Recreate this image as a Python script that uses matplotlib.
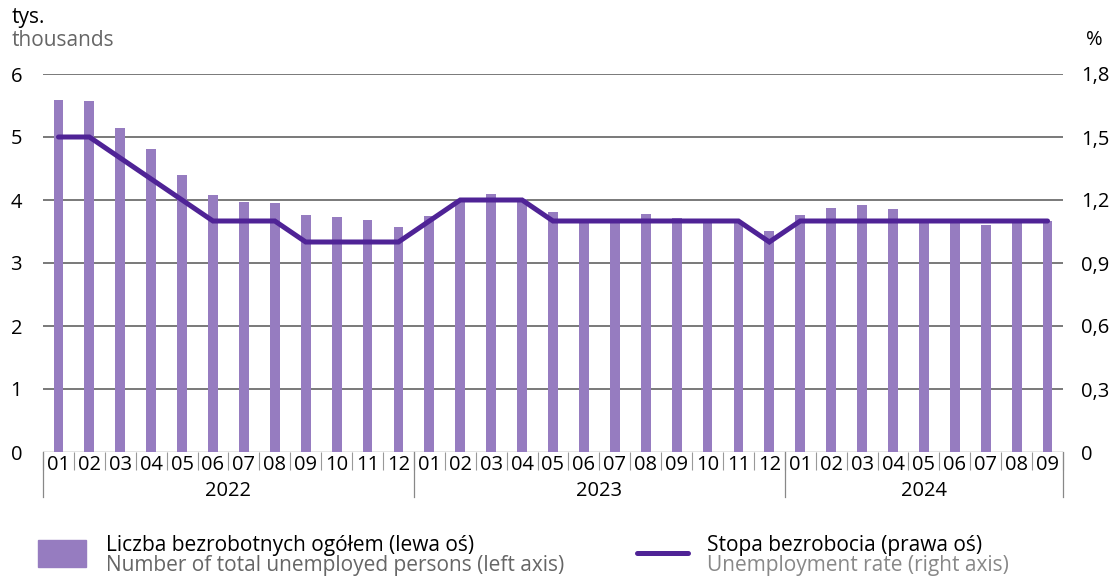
import numpy as np
import matplotlib.pyplot as plt
import matplotlib.transforms as mtransforms

# ---- data ----
months = ["01", "02", "03", "04", "05", "06", "07", "08", "09", "10", "11", "12",
          "01", "02", "03", "04", "05", "06", "07", "08", "09", "10", "11", "12",
          "01", "02", "03", "04", "05", "06", "07", "08", "09"]
years = ["2022", "2023", "2024"]
year_sizes = [12, 12, 9]

unemployed = [5.59, 5.57, 5.14, 4.81, 4.40, 4.08, 3.97, 3.95, 3.76, 3.73, 3.68, 3.57,
              3.75, 3.99, 4.10, 4.01, 3.81, 3.66, 3.67, 3.78, 3.71, 3.66, 3.63, 3.51,
              3.76, 3.87, 3.92, 3.86, 3.69, 3.67, 3.60, 3.67, 3.67]
rate = [1.5, 1.5, 1.4, 1.3, 1.2, 1.1, 1.1, 1.1, 1.0, 1.0, 1.0, 1.0,
        1.1, 1.2, 1.2, 1.2, 1.1, 1.1, 1.1, 1.1, 1.1, 1.1, 1.1, 1.0,
        1.1, 1.1, 1.1, 1.1, 1.1, 1.1, 1.1, 1.1, 1.1]

left_ticks = [0, 1, 2, 3, 4, 5, 6]
right_ticks = [0, 0.3, 0.6, 0.9, 1.2, 1.5, 1.8]
right_labels = ["0", "0,3", "0,6", "0,9", "1,2", "1,5", "1,8"]

bar_color = "#967cc0"
line_color = "#4f2396"
grey_text = "#666666"
fs = 14.5      # tick labels
fs_txt = 15    # titles and legend

plt.rcParams["font.family"] = ["Open Sans", "DejaVu Sans"]
plt.rcParams["font.size"] = fs

fig = plt.figure(figsize=(11.11, 5.77), dpi=100)
ax = fig.add_axes([43 / 1111, 1 - 452 / 577, 1020 / 1111, 378 / 577])
ax2 = ax.twinx()

x = np.arange(len(months))
ax.bar(x, unemployed, width=0.32, color=bar_color, zorder=2)
ax2.plot(x, rate, color=line_color, lw=3.6, solid_capstyle="round",
         solid_joinstyle="miter", zorder=3)

ax.set_xlim(-0.5, len(months) - 0.5)
ax.set_ylim(0, 6)
ax2.set_ylim(0, 1.8)

# grid
for v in left_ticks[1:]:
    ax.axhline(v, color="#555555", lw=1.1, zorder=1)
ax.axhline(0, color="#777777", lw=1.0, zorder=1)

for s in ["top", "right", "left", "bottom"]:
    ax.spines[s].set_visible(False)
    ax2.spines[s].set_visible(False)

ax.set_yticks(left_ticks)
ax.set_yticklabels([str(v) for v in left_ticks])
ax.tick_params(axis="y", length=0, pad=15, labelsize=fs)
ax2.set_yticks(right_ticks)
ax2.set_yticklabels(right_labels)
ax2.tick_params(axis="y", length=0, pad=13, labelsize=fs)

# month labels
ax.set_xticks(x)
ax.set_xticklabels(months)
ax.tick_params(axis="x", length=0, pad=2, labelsize=fs)
ax.set_xticks(np.arange(-0.5, len(months), 1), minor=True)
ax.tick_params(axis="x", which="minor", length=13, width=0.8, color="#999999")

# year separators and labels
trans = mtransforms.blended_transform_factory(ax.transData, ax.transAxes)
start = 0
edges = [-0.5]
for yr, n in zip(years, year_sizes):
    mid = start + (n - 1) / 2
    ax.text(mid, -0.103, yr, transform=trans, ha="center", va="center", fontsize=fs)
    start += n
    edges.append(start - 0.5)
for e in edges:
    ax.plot([e, e], [0, -0.12], transform=trans, color="#888888", lw=0.9, clip_on=False)

# axis titles
fig.text(12 / 1111, 1 - 18 / 577, "tys.", ha="left", va="center", fontsize=fs_txt)
fig.text(12 / 1111, 1 - 40 / 577, "thousands", ha="left", va="center", fontsize=fs_txt, color=grey_text)
fig.text(1094 / 1111, 1 - 40 / 577, "%", ha="center", va="center", fontsize=fs)

# legend
lax = fig.add_axes([0, 0, 1, 1], facecolor="none")
lax.set_xlim(0, 1111)
lax.set_ylim(577, 0)
lax.axis("off")
lax.add_patch(plt.Rectangle((38, 540), 48, 27, color=bar_color))
lax.text(106, 545, "Liczba bezrobotnych ogółem (lewa oś)", va="center", fontsize=fs_txt)
lax.text(106, 566, "Number of total unemployed persons (left axis)", va="center",
         fontsize=fs_txt, color=grey_text)
lax.plot([637, 688], [553, 553], color=line_color, lw=3.6, solid_capstyle="round")
lax.text(707, 545, "Stopa bezrobocia (prawa oś)", va="center", fontsize=fs_txt)
lax.text(707, 566, "Unemployment rate (right axis)", va="center", fontsize=fs_txt, color="#888888")

fig.savefig("out.png", dpi=100)
